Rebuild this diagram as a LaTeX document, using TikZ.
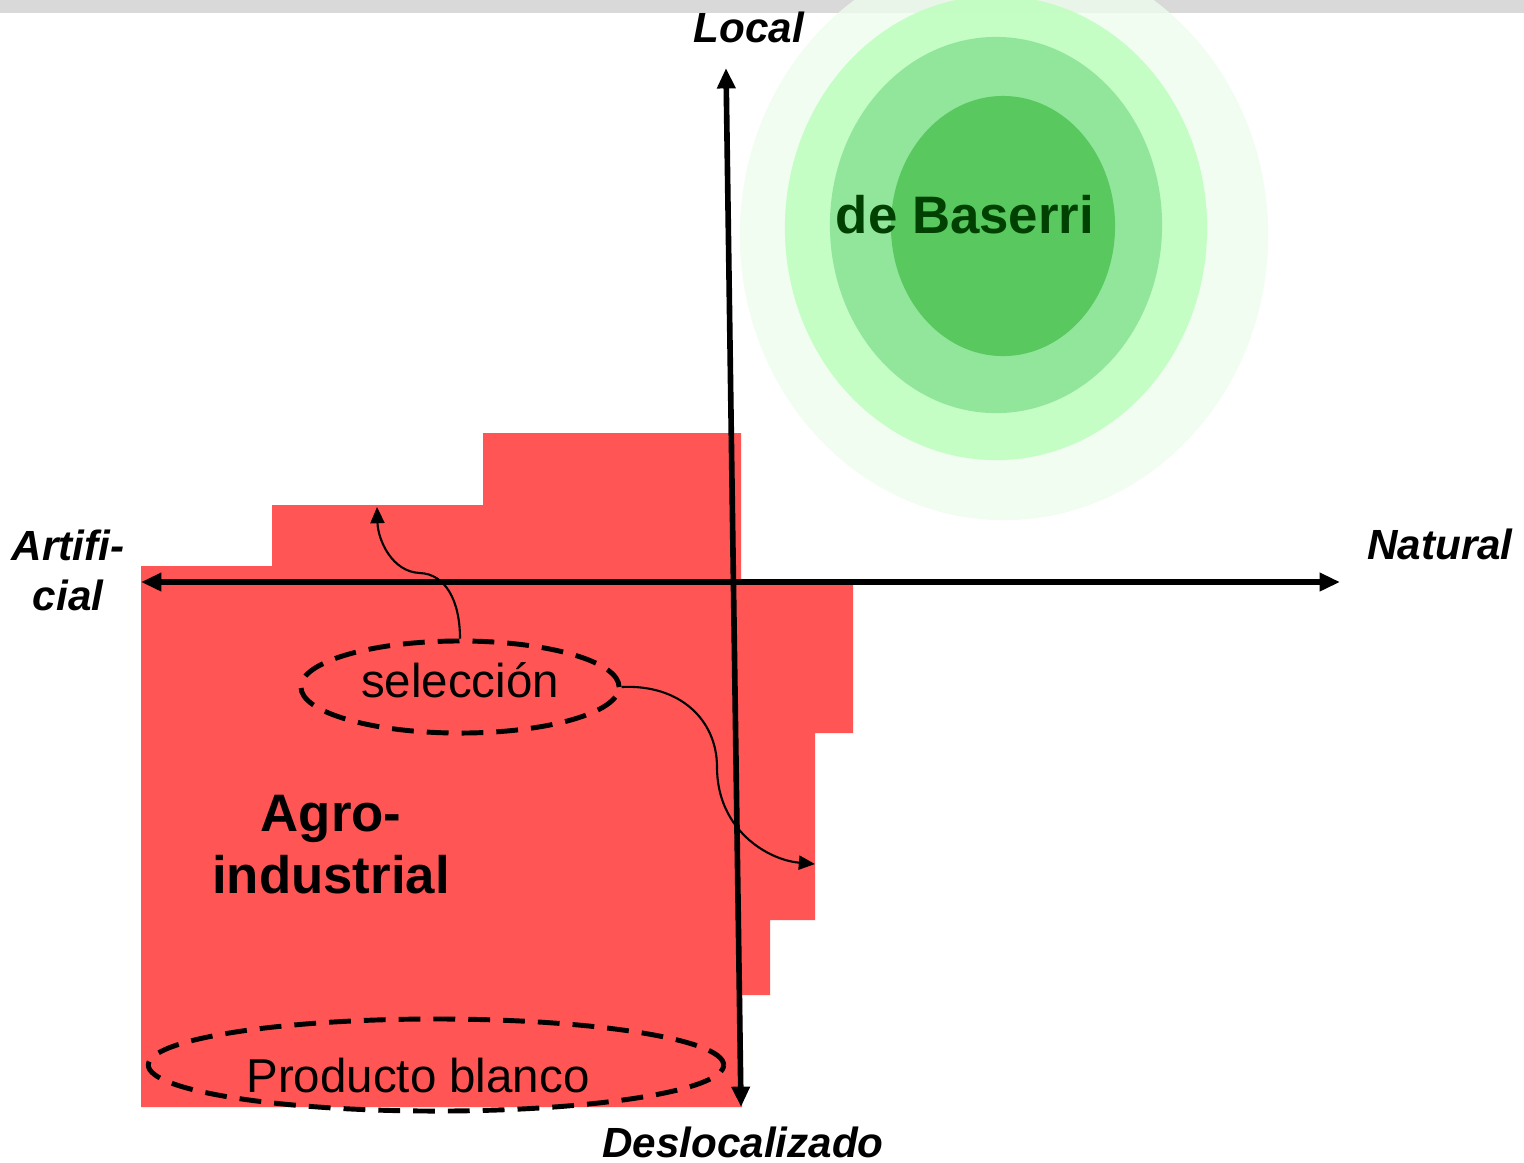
\documentclass[tikz,border=0pt]{standalone}
\usepackage{fontspec}
\setmainfont{Liberation Sans}
\usepackage{tikz}
\usetikzlibrary{arrows.meta,calc,positioning,shapes}
\definecolor{agrored}{RGB}{255,85,85}
\definecolor{barcolor}{RGB}{217,217,217}
\definecolor{ringA}{RGB}{236,252,236}
\definecolor{ringB}{RGB}{186,255,186}
\definecolor{ringC}{RGB}{145,230,155}
\definecolor{ringD}{RGB}{88,200,95}
\definecolor{baserri}{RGB}{0,64,0}
\tikzset{>=stealth,
	axis/.style={% the two crossing axes
		line width=1.6pt,
		{Triangle[length=5.8pt,width=5pt]}-{Triangle[length=5.8pt,width=5pt]}
	},
	axislabel/.style={
		font=\fontsize{12}{14.2}\selectfont\bfseries\itshape,
		inner sep=0pt
	},
	zone/.style={
		draw, shape=ellipse,
		line width=1.4pt,
		dash pattern=on 6.2pt off 3.7pt,
		inner sep=0pt,
		font=\fontsize{13.5}{16}\selectfont
	},
	link/.style={
		line width=0.6pt,
		-{Triangle[length=4.6pt,width=4pt]}
	}
}

\begin{document}
\begin{tikzpicture}[x=0.01cm, y=-0.01cm]
		\useasboundingbox (0,0) rectangle (1524,1162);
		\fill[barcolor] (0,0) rectangle (1524,13);
		
		\fill[ringA, fill opacity=0.8] (1004,235) ellipse [x radius=2.64cm, y radius=2.85cm];
		\fill[ringB, fill opacity=0.8] (996,228) ellipse [x radius=2.11cm, y radius=2.32cm];
		\fill[ringC] (996,225) ellipse [x radius=1.66cm, y radius=1.88cm];
		\fill[ringD] (1003,226) ellipse [x radius=1.12cm, y radius=1.30cm];
		
		\fill[agrored] (141,1107) -- (141,566) -- (272,566) -- (272,505) -- (483,505)
		-- (483,433) -- (741,433) -- (741,582) -- (853,582) -- (853,733) -- (815,733)
		-- (815,920) -- (770,920) -- (770,995) -- (742,995) -- (742,1107) -- cycle;
		
		\coordinate (west) at (141,582);
		\coordinate (east) at (1340,582);
		\coordinate (north) at (726,68);
		\coordinate (south) at (741,1107);
		\draw[axis] (west) -- (east);
		\draw[axis] (south) -- (north);
		
		\node[axislabel, anchor=base] (local) at (749,42) {Local};
		\node[axislabel, anchor=base] (deslocalizado) at (743,1157) {Deslocalizado};
		\node[axislabel, anchor=base] (natural) at (1440,559) {Natural};
		\node[axislabel, align=center] (artificial) at (68,570) {Artifi-\\cial};
		
		\node[font=\fontsize{15}{17.6}\selectfont\bfseries, text=baserri, anchor=base, inner sep=0pt]
		(baserri) at (965,233) {de Baserri};
		\node[font=\fontsize{15}{17.6}\selectfont\bfseries, align=center, inner sep=0pt]
		(agro) at (331,845) {Agro-\\industrial};
		
		\node[zone, minimum width=3.18cm, minimum height=0.92cm, text height=9pt, text depth=3.3pt]
		(sel) at (460,687) {selección};
		\node[zone, minimum width=5.75cm, minimum height=0.92cm] (prod) at (436,1065) {};
		\node[font=\fontsize{13.5}{16}\selectfont, anchor=base, inner sep=0pt]
		(prodtext) at (418,1092) {Producto blanco};
		
		\coordinate (stepup) at (377,507);
		\coordinate (stepright) at (815,864);
		\draw[link] (sel.north) .. controls (460,600) and (445,574) .. (420,573)
		.. controls (392,572) and (378,540) .. (stepup);
		\draw[link] (sel.east) .. controls (680,684) and (717,720) .. (717,767)
		.. controls (717,830) and (768,860) .. (stepright);
	\end{tikzpicture}
\end{document}
